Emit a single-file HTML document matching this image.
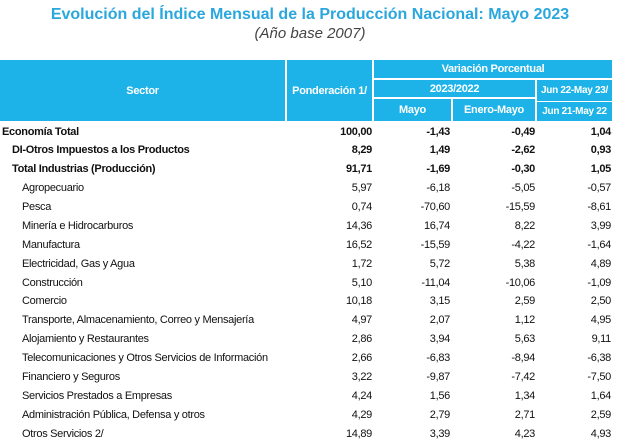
<!DOCTYPE html>
<html><head><meta charset="utf-8"><style>
body{margin:0;width:620px;height:446px;background:#fff;position:relative;overflow:hidden;font-family:"Liberation Sans",sans-serif;}
.t{position:absolute;white-space:nowrap;}
.title{left:0;width:620px;text-align:center;top:6px;font-size:16px;font-weight:bold;color:#2aa7dc;}
.sub{left:0;width:620px;text-align:center;top:25px;font-size:15px;font-style:italic;color:#444;}
.hc{position:absolute;background:#1db3e8;color:#fff;font-size:11px;font-weight:bold;display:flex;align-items:center;justify-content:center;letter-spacing:-0.3px;}
.row{position:absolute;left:0;width:620px;height:18px;font-size:11px;color:#111;letter-spacing:-0.3px;}
.row span{position:absolute;top:2px;}
.num{text-align:right;}
.b{font-weight:bold;}
</style></head><body>
<div class="t title">Evolución del Índice Mensual de la Producción Nacional: Mayo 2023</div>
<div class="t sub">(Año base 2007)</div>
<div class="hc" style="left:0;top:60px;width:285px;height:61px">Sector</div>
<div class="hc" style="left:287px;top:60px;width:85px;height:61px">Ponderación 1/</div>
<div class="hc" style="left:374px;top:60px;width:238px;height:18px">Variación Porcentual</div>
<div class="hc" style="left:374px;top:80px;width:161px;height:17px">2023/2022</div>
<div class="hc" style="left:537px;top:80px;width:75px;height:41px;flex-direction:column;font-size:10px"><div style="padding-bottom:5px;border-bottom:1px solid #fff;width:100%;text-align:center">Jun 22-May 23/</div><div style="padding-top:4px">Jun 21-May 22</div></div>
<div class="hc" style="left:374px;top:99px;width:77px;height:22px">Mayo</div>
<div class="hc" style="left:453px;top:99px;width:82px;height:22px">Enero-Mayo</div>
<div id="rows"></div>
<script>
const sectors=["Economía Total","DI-Otros Impuestos a los Productos","Total  Industrias (Producción)","Agropecuario","Pesca","Minería e Hidrocarburos","Manufactura","Electricidad, Gas y Agua","Construcción","Comercio","Transporte, Almacenamiento, Correo y Mensajería","Alojamiento y Restaurantes","Telecomunicaciones y Otros Servicios de Información","Financiero y Seguros","Servicios Prestados a Empresas","Administración Pública, Defensa y otros","Otros Servicios 2/"];
const ponderacion=["100,00","8,29","91,71","5,97","0,74","14,36","16,52","1,72","5,10","10,18","4,97","2,86","2,66","3,22","4,24","4,29","14,89"];
const mayo=["-1,43","1,49","-1,69","-6,18","-70,60","16,74","-15,59","5,72","-11,04","3,15","2,07","3,94","-6,83","-9,87","1,56","2,79","3,39"];
const eneroMayo=["-0,49","-2,62","-0,30","-5,05","-15,59","8,22","-4,22","5,38","-10,06","2,59","1,12","5,63","-8,94","-7,42","1,34","2,71","4,23"];
const anual=["1,04","0,93","1,05","-0,57","-8,61","3,99","-1,64","4,89","-1,09","2,50","4,95","9,11","-6,38","-7,50","1,64","2,59","4,93"];
const c=document.getElementById('rows');
sectors.forEach((s,i)=>{
  const y=i<3?[124,142,161][i]:180+(i-3)*18.9;
  const r=document.createElement('div');
  r.className='row'+(i<3?' b':'');
  r.style.top=y+'px';
  
  
  const indent=i==0?2:(i<3?12:22);
  r.innerHTML=`<span style="left:${indent}px">${s}</span>`+
   `<span class="num" style="right:${620-372}px">${ponderacion[i]}</span>`+
   `<span class="num" style="right:${620-450}px">${mayo[i]}</span>`+
   `<span class="num" style="right:${620-535}px">${eneroMayo[i]}</span>`+
   `<span class="num" style="right:${620-611}px">${anual[i]}</span>`;
  c.appendChild(r);
});
</script>
</body></html>
